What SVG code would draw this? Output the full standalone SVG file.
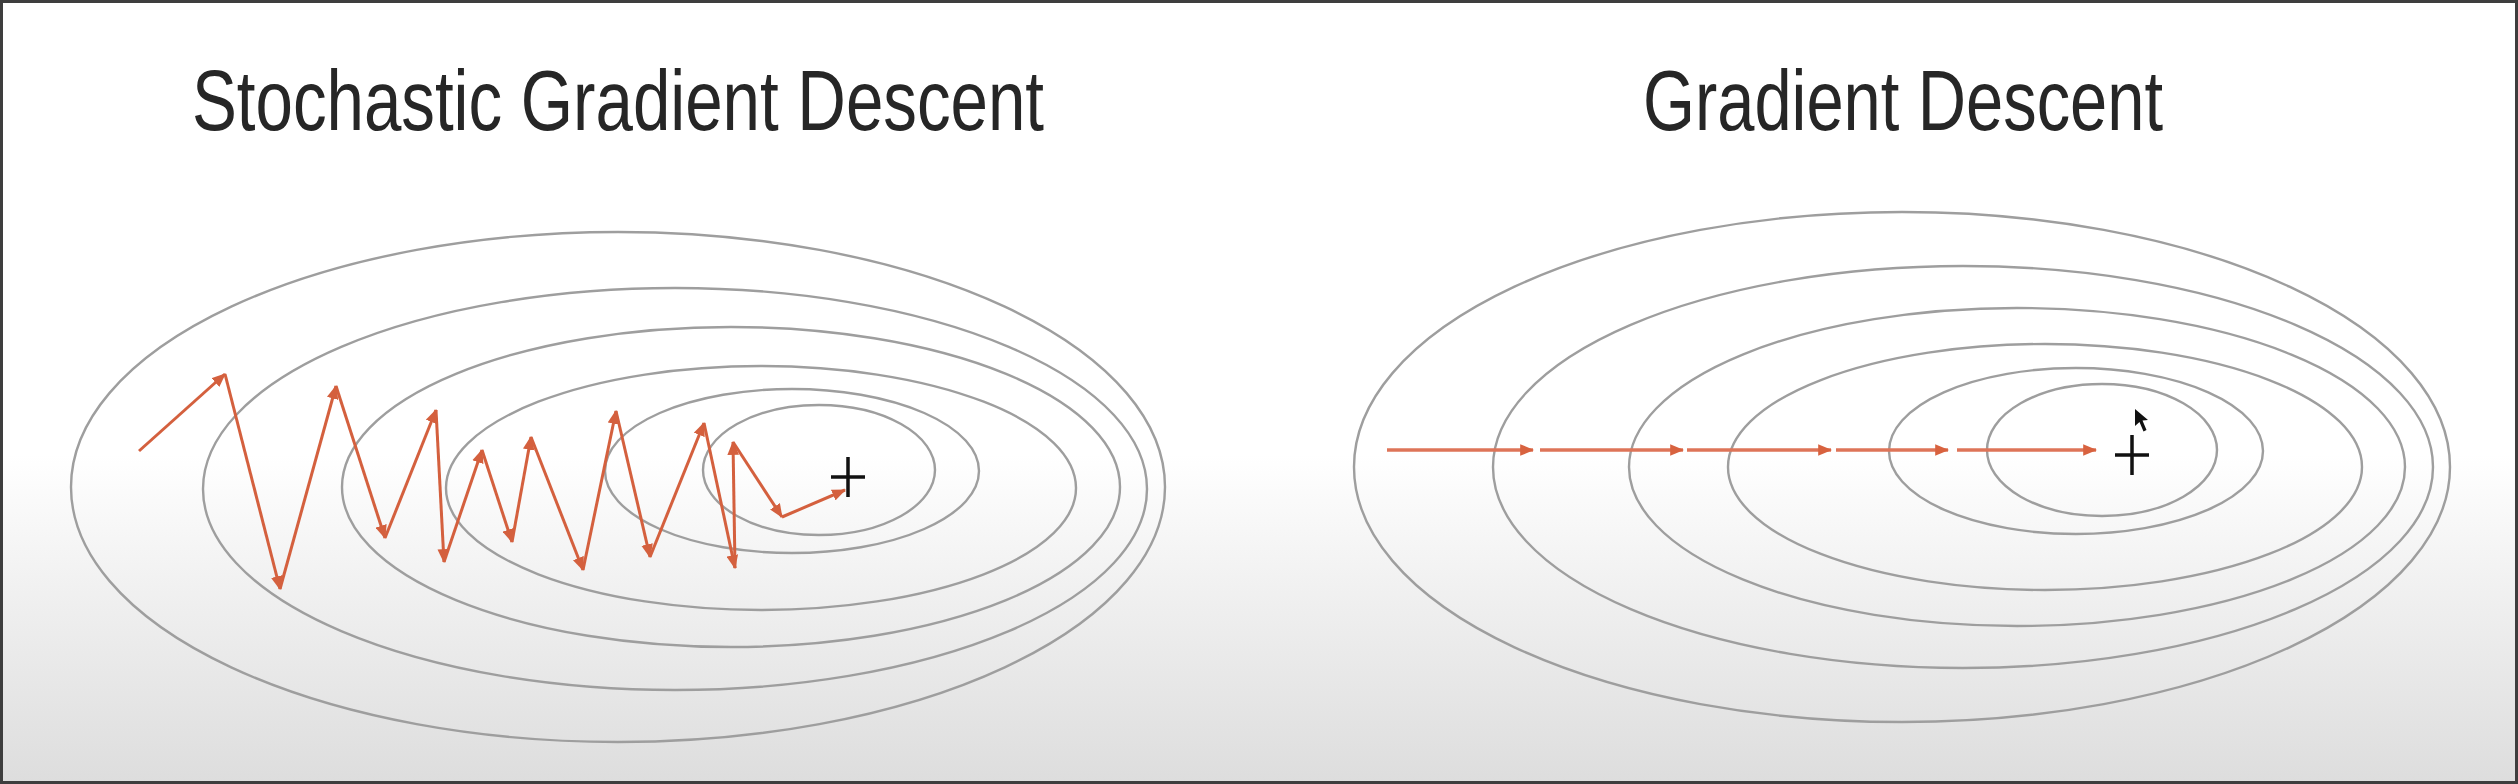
<svg xmlns="http://www.w3.org/2000/svg" width="2518" height="784" viewBox="0 0 2518 784">
<defs>
<linearGradient id="bg" x1="0" y1="0" x2="0" y2="784" gradientUnits="userSpaceOnUse">
<stop offset="0" stop-color="#ffffff"/>
<stop offset="0.58" stop-color="#ffffff"/>
<stop offset="0.77" stop-color="#efefef"/>
<stop offset="1" stop-color="#dddddd"/>
</linearGradient>
<marker id="ah" viewBox="0 0 12 10" refX="11" refY="5" markerWidth="14" markerHeight="12" markerUnits="userSpaceOnUse" orient="auto">
<path d="M0,0 L12,5 L0,10 z" fill="#d4603e"/>
</marker>
<marker id="ah2" viewBox="0 0 12 10" refX="11" refY="5" markerWidth="14" markerHeight="13" markerUnits="userSpaceOnUse" orient="auto">
<path d="M0,0 L12,5 L0,10 z" fill="#d8623f"/>
</marker>
</defs>
<style>
.contour{fill:none;stroke:#9e9e9e;stroke-width:2.4}
.title{font-family:"Liberation Sans",Arial,sans-serif;font-size:86px;fill:#262626}
.step{stroke:#d4603e;stroke-width:3;fill:none;marker-end:url(#ah)}
.gstep{stroke:#de7458;stroke-width:3.5;fill:none;marker-end:url(#ah2)}
.plus{stroke:#111;stroke-width:3.5;fill:none}
</style>
<rect x="0" y="0" width="2518" height="784" fill="url(#bg)"/>
<rect x="1.5" y="1.5" width="2515" height="781" fill="none" stroke="#3e3e3e" stroke-width="3"/>

<g id="sgd-title"><text class="title" x="192" y="130" textLength="852" lengthAdjust="spacingAndGlyphs">Stochastic Gradient Descent</text></g>
<g id="gd-title"><text class="title" x="1643" y="130" textLength="520" lengthAdjust="spacingAndGlyphs">Gradient Descent</text></g>

<g id="sgd-contours">
<ellipse class="contour" cx="618" cy="487" rx="547" ry="255"/>
<ellipse class="contour" cx="675" cy="489" rx="472" ry="201"/>
<ellipse class="contour" cx="731" cy="487" rx="389" ry="160"/>
<ellipse class="contour" cx="761" cy="488" rx="315" ry="122"/>
<ellipse class="contour" cx="792" cy="471" rx="187" ry="82"/>
<ellipse class="contour" cx="819" cy="470" rx="116" ry="65"/>
</g>
<g id="sgd-minimum">
<path class="plus" d="M831 477 H865 M848 457 V497"/>
</g>

<g id="gd-contours">
<ellipse class="contour" cx="1902" cy="467" rx="548" ry="255"/>
<ellipse class="contour" cx="1963" cy="467" rx="470" ry="201"/>
<ellipse class="contour" cx="2017" cy="467" rx="388" ry="159"/>
<ellipse class="contour" cx="2045" cy="467" rx="317" ry="123"/>
<ellipse class="contour" cx="2076" cy="451" rx="187" ry="83"/>
<ellipse class="contour" cx="2102" cy="450" rx="115" ry="66"/>
</g>
<g id="gd-minimum">
<path class="plus" d="M2115 455 H2149 M2132 435 V475"/>
</g>
<g id="cursor">
<path d="M2135 409 L2135 426 L2139.5 422 L2143.5 431.5 L2146.5 430 L2142.5 420.5 L2148 420 Z" fill="#111"/>
</g>

<g id="connectors">
<g id="sgd-path">
<line class="step" x1="139" y1="451" x2="225" y2="374"/>
<line class="step" x1="225" y1="374" x2="280" y2="589"/>
<line class="step" x1="280" y1="589" x2="336" y2="386"/>
<line class="step" x1="336" y1="386" x2="385" y2="538"/>
<line class="step" x1="385" y1="538" x2="436" y2="410"/>
<line class="step" x1="436" y1="410" x2="444" y2="562"/>
<line class="step" x1="444" y1="562" x2="482" y2="450"/>
<line class="step" x1="482" y1="450" x2="512" y2="542"/>
<line class="step" x1="512" y1="542" x2="531" y2="437"/>
<line class="step" x1="531" y1="437" x2="583" y2="570"/>
<line class="step" x1="583" y1="570" x2="616" y2="411"/>
<line class="step" x1="616" y1="411" x2="650" y2="557"/>
<line class="step" x1="650" y1="557" x2="704" y2="423"/>
<line class="step" x1="704" y1="423" x2="735" y2="568"/>
<line class="step" x1="735" y1="568" x2="733" y2="442"/>
<line class="step" x1="733" y1="442" x2="782" y2="517"/>
<line class="step" x1="782" y1="517" x2="845" y2="490"/>
</g>
<g id="gd-path">
<line class="gstep" x1="1387" y1="450" x2="1533" y2="450"/>
<line class="gstep" x1="1540" y1="450" x2="1683" y2="450"/>
<line class="gstep" x1="1687" y1="450" x2="1831" y2="450"/>
<line class="gstep" x1="1836" y1="450" x2="1948" y2="450"/>
<line class="gstep" x1="1957" y1="450" x2="2096" y2="450"/>
</g>
</g>
</svg>
